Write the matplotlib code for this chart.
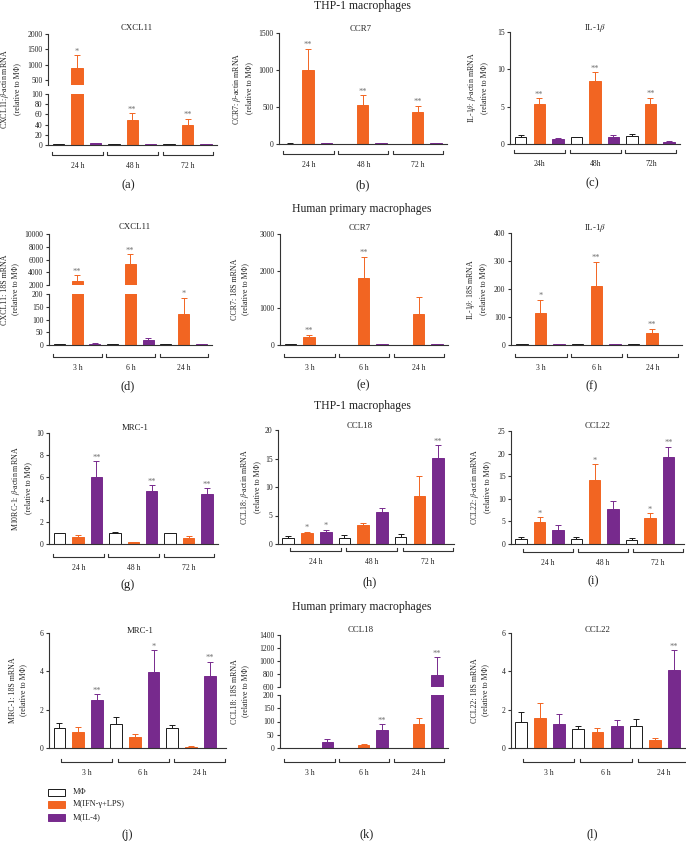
import matplotlib
matplotlib.use("Agg")
import matplotlib.pyplot as plt
import numpy as np
from matplotlib.transforms import blended_transform_factory
from matplotlib.patches import Rectangle

plt.rcParams['font.family'] = ['Liberation Serif', 'DejaVu Serif']
plt.rcParams['mathtext.fontset'] = 'stix'

# ---------------- data ----------------
SERIES = ["MΦ", "M(IFN-γ+LPS)", "M(IL-4)"]
GROUPS_THP = ["24 h", "48 h", "72 h"]
GROUPS_THP_C = ["24h", "48h", "72h"]
GROUPS_HUM = ["3 h", "6 h", "24 h"]

# (a) CXCL11 THP-1
a_mphi = [1, 1, 1];        a_mphi_se = [0.5, 0.3, 0.5]
a_ifn = [900, 50, 40];     a_ifn_se = [400, 12, 11]
a_il4 = [3, 2, 2];         a_il4_se = [1, 0.5, 0.5]
a_stars = {1: ["*", "**", "**"]}

# (b) CCR7 THP-1
b_mphi = [5, 0, 0];        b_mphi_se = [2, 0, 0]
b_ifn = [1000, 530, 430];  b_ifn_se = [290, 130, 90]
b_il4 = [10, 10, 12];      b_il4_se = [3, 3, 3]
b_stars = {1: ["**", "**", "**"]}

# (c) IL-1b THP-1
c_mphi = [1.0, 0.95, 1.05]; c_mphi_se = [0.15, 0.05, 0.25]
c_ifn = [5.3, 8.4, 5.3];    c_ifn_se = [0.8, 1.2, 0.9]
c_il4 = [0.7, 0.95, 0.3];   c_il4_se = [0.1, 0.2, 0.05]
c_stars = {1: ["**", "**", "**"]}

# (d) CXCL11 human
d_mphi = [2, 3, 4];          d_mphi_se = [1, 1, 1]
d_ifn = [2700, 5300, 122];   d_ifn_se = [800, 1550, 63]
d_il4 = [5, 20, 3];          d_il4_se = [2, 8, 1]
d_stars = {1: ["**", "**", "*"]}

# (e) CCR7 human
e_mphi = [20, 0, 0];         e_mphi_se = [5, 0, 0]
e_ifn = [215, 1820, 840];    e_ifn_se = [65, 570, 470]
e_il4 = [0, 20, 15];         e_il4_se = [0, 5, 5]
e_stars = {1: ["**", "**", ""]}

# (f) IL-1b human
f_mphi = [2, 3, 3];          f_mphi_se = [1, 1, 1]
f_ifn = [113, 211, 43];      f_ifn_se = [48, 87, 15]
f_il4 = [2, 3, 0.5];         f_il4_se = [1, 1, 0.2]
f_stars = {1: ["*", "**", "**"]}

# (g) MRC-1 THP-1
g_mphi = [0.95, 1.0, 0.98];  g_mphi_se = [0.05, 0.05, 0.05]
g_ifn = [0.6, 0.15, 0.5];    g_ifn_se = [0.2, 0.07, 0.2]
g_il4 = [6.05, 4.78, 4.48];  g_il4_se = [1.4, 0.52, 0.55]
g_stars = {2: ["**", "**", "**"]}

# (h) CCL18 THP-1
h_mphi = [1.05, 1.05, 1.22]; h_mphi_se = [0.3, 0.45, 0.48]
h_ifn = [1.87, 3.27, 8.4];   h_ifn_se = [0.29, 0.33, 3.55]
h_il4 = [2.04, 5.54, 15.16]; h_il4_se = [0.41, 0.86, 2.14]
h_stars = {1: ["*", "", ""], 2: ["*", "", "**"]}

# (i) CCL22 THP-1
i_mphi = [1.1, 1.1, 0.95];   i_mphi_se = [0.4, 0.4, 0.35]
i_ifn = [4.84, 14.1, 5.65];  i_ifn_se = [1.1, 3.5, 1.1]
i_il4 = [3.2, 7.85, 19.3];   i_il4_se = [0.9, 1.75, 2.2]
i_stars = {1: ["*", "*", "*"], 2: ["", "", "**"]}

# (j) MRC-1 human
j_mphi = [1.05, 1.26, 1.05]; j_mphi_se = [0.23, 0.38, 0.17]
j_ifn = [0.84, 0.56, 0.05];  j_ifn_se = [0.23, 0.19, 0.05]
j_il4 = [2.5, 3.97, 3.76];   j_il4_se = [0.31, 1.12, 0.73]
j_stars = {2: ["**", "*", "**"]}

# (k) CCL18 human
k_mphi = [1, 1, 1];          k_mphi_se = [0.5, 0.5, 0.5]
k_ifn = [1, 10, 89];         k_ifn_se = [0.5, 6.5, 26]
k_il4 = [21.7, 67.5, 785];   k_il4_se = [11, 21.5, 271]
k_stars = {2: ["", "**", "**"]}

# (l) CCL22 human
l_mphi = [1.36, 1.01, 1.17]; l_mphi_se = [0.53, 0.13, 0.35]
l_ifn = [1.59, 0.86, 0.42];  l_ifn_se = [0.74, 0.19, 0.12]
l_il4 = [1.24, 1.14, 4.06];  l_il4_se = [0.54, 0.33, 1.04]
l_stars = {2: ["", "", "**"]}

# ---------------- style ----------------
W, H = 686, 841
fig = plt.figure(figsize=(W / 100, H / 100), dpi=100)
FACE = ["white", "#F26522", "#772A8D"]
EDGE = ["#1a1a1a", "#F26522", "#772A8D"]
STAR_COLOR = "#707070"
TXT = "#222222"


def add_ax(x0, x1, yt, yb):
    return fig.add_axes([x0 / W, 1 - yb / H, (x1 - x0) / W, (yb - yt) / H])


def style(ax, bottom=True):
    for s in ['top', 'right']:
        ax.spines[s].set_visible(False)
    for s in ['left', 'bottom']:
        ax.spines[s].set_linewidth(0.8)
        ax.spines[s].set_color('#333333')
    if not bottom:
        ax.spines['bottom'].set_visible(False)
    ax.tick_params(axis='y', direction='out', length=2.5, width=0.8,
                   labelsize=5.5, pad=1.5, colors='#333333', labelcolor=TXT)
    ax.tick_params(axis='x', length=0, labelbottom=False)
    ax.set_facecolor('none')


def draw_bars(ax, means, ses):
    for s, (m, e) in enumerate(zip(means, ses)):
        x = np.arange(len(m)) * 3 + s
        ax.bar(x, m, width=0.62, color=FACE[s], edgecolor=EDGE[s],
               linewidth=0.7, zorder=2)
        ax.errorbar(x, m, yerr=[np.zeros(len(m)), e], fmt='none',
                    ecolor=EDGE[s], elinewidth=0.7, capsize=2,
                    capthick=0.7, zorder=1)


def draw_stars(axes_pick, means, ses, stars):
    for s, lst in stars.items():
        for g, st in enumerate(lst):
            if not st:
                continue
            top = means[s][g] + ses[s][g]
            ax = axes_pick(top)
            ax.annotate(st, (g * 3 + s, top), xytext=(0, 1.2),
                        textcoords='offset points', ha='center',
                        va='baseline', fontsize=6, color=STAR_COLOR)


def draw_brackets(ax, groups, hpx, off_px, span):
    tr = blended_transform_factory(ax.transData, ax.transAxes)
    y = -off_px / hpx
    yt = -(off_px - 3.5) / hpx
    yl = -(off_px + 11) / hpx
    for g, lab in enumerate(groups):
        x0, x1 = g * 3 + span[0], g * 3 + span[1]
        ax.plot([x0, x0, x1, x1], [yt, y, y, yt], transform=tr,
                color='#333333', lw=0.8, clip_on=False)
        ax.text((x0 + x1) / 2, yl, lab, transform=tr, ha='center',
                va='center', fontsize=5.5, color=TXT)


STD_SPAN = (-0.35, 2.4)
SHIFT_SPAN = (0.1, 2.8)
STD_XLIM = (-0.58, 8.6)
SHIFT_XLIM = (-0.55, 8.85)


def panel(x0, x1, yt, yb, means, ses, stars, groups, title, title_xy,
          ylabel, ylab_x, ylim, yticks, letter, letter_xy, br_off,
          span=STD_SPAN, xlim=STD_XLIM, broken=None):
    if broken is None:
        ax = add_ax(x0, x1, yt, yb)
        style(ax)
        draw_bars(ax, means, ses)
        ax.set_xlim(*xlim)
        ax.set_ylim(*ylim)
        ax.set_yticks(yticks)
        draw_stars(lambda t: ax, means, ses, stars)
        low = ax
        hpx = yb - yt
        ycen = (yt + yb) / 2
    else:
        (ut, ub, lt, lb, uylim, uticks) = broken
        axu = add_ax(x0, x1, ut, ub)
        axl = add_ax(x0, x1, lt, lb)
        style(axu, bottom=False)
        style(axl)
        for a in (axu, axl):
            draw_bars(a, means, ses)
            a.set_xlim(*xlim)
        axu.set_ylim(*uylim)
        axu.set_yticks(uticks)
        axl.set_ylim(*ylim)
        axl.set_yticks(yticks)
        draw_stars(lambda t: axu if t > ylim[1] else axl, means, ses, stars)
        low = axl
        hpx = lb - lt
        ycen = (ut + lb) / 2
    draw_brackets(low, groups, hpx, br_off, span)
    fig.text(title_xy[0] / W, 1 - title_xy[1] / H, title, ha='center',
             va='center', fontsize=6.3, color=TXT)
    fig.text(ylab_x / W, 1 - ycen / H, ylabel, rotation=90, ha='center',
             va='center', fontsize=5.7, linespacing=1.4, color=TXT,
             multialignment='center')
    fig.text(letter_xy[0] / W, 1 - letter_xy[1] / H, letter, ha='center',
             va='center', fontsize=9, color=TXT)


B = r'$\beta$'
REL = "(relative to MΦ)"

panel(48, 217, None, None,
      [a_mphi, a_ifn, a_il4], [a_mphi_se, a_ifn_se, a_il4_se], a_stars,
      GROUPS_THP, "CXCL11", (137, 28),
      "CXCL11:" + B + "-actin mRNA\n" + REL, 10,
      (0, 100), [0, 20, 40, 60, 80, 100], "(a)", (128, 185), 10,
      broken=(34, 85, 94, 145, (330, 2000), [500, 1000, 1500, 2000]))

panel(279, 447, 33, 144,
      [b_mphi, b_ifn, b_il4], [b_mphi_se, b_ifn_se, b_il4_se], b_stars,
      GROUPS_THP, "CCR7", (361, 29),
      "CCR7: " + B + "-actin mRNA\n" + REL, 242,
      (0, 1500), [0, 500, 1000, 1500], "(b)", (363, 185), 10)

panel(510, 680, 32, 144,
      [c_mphi, c_ifn, c_il4], [c_mphi_se, c_ifn_se, c_il4_se], c_stars,
      GROUPS_THP_C, "IL-1" + B, (595, 28),
      "IL-1" + B + ": " + B + "-actin mRNA\n" + REL, 477,
      (0, 15), [0, 5, 10, 15], "(c)", (592, 183), 9)

panel(49, 212, None, None,
      [d_mphi, d_ifn, d_il4], [d_mphi_se, d_ifn_se, d_il4_se], d_stars,
      GROUPS_HUM, "CXCL11", (135, 227),
      "CXCL11: 18S mRNA\n" + REL, 10,
      (0, 200), [0, 50, 100, 150, 200], "(d)", (128, 386), 12,
      broken=(234, 285, 294, 345, (2000, 10000),
              [2000, 4000, 6000, 8000, 10000]))

panel(280, 448, 234, 345,
      [e_mphi, e_ifn, e_il4], [e_mphi_se, e_ifn_se, e_il4_se], e_stars,
      GROUPS_HUM, "CCR7", (360, 228),
      "CCR7: 18S mRNA\n" + REL, 240,
      (0, 3000), [0, 1000, 2000, 3000], "(e)", (363, 385), 12)

panel(511, 682, 233, 345,
      [f_mphi, f_ifn, f_il4], [f_mphi_se, f_ifn_se, f_il4_se], f_stars,
      GROUPS_HUM, "IL-1" + B, (595, 228),
      "IL-1" + B + ": 18S mRNA\n" + REL, 476,
      (0, 400), [0, 100, 200, 300, 400], "(f)", (592, 386), 12)

panel(49, 218, 433, 544,
      [g_mphi, g_ifn, g_il4], [g_mphi_se, g_ifn_se, g_il4_se], g_stars,
      GROUPS_THP, "MRC-1", (135, 428),
      "M10RC-1: " + B + "-actin mRNA\n" + REL, 21,
      (0, 10), [0, 2, 4, 6, 8, 10], "(g)", (128, 585), 13)

panel(278, 454, 430, 544,
      [h_mphi, h_ifn, h_il4], [h_mphi_se, h_ifn_se, h_il4_se], h_stars,
      GROUPS_THP, "CCL18", (360, 426),
      "CCL18: " + B + "-actin mRNA\n" + REL, 250,
      (0, 20), [0, 5, 10, 15, 20], "(h)", (370, 582), 7,
      span=SHIFT_SPAN, xlim=SHIFT_XLIM)

panel(511, 684, 431, 544,
      [i_mphi, i_ifn, i_il4], [i_mphi_se, i_ifn_se, i_il4_se], i_stars,
      GROUPS_THP, "CCL22", (598, 426),
      "CCL22: " + B + "-actin mRNA\n" + REL, 480,
      (0, 25), [0, 5, 10, 15, 20, 25], "(i)", (593, 581), 8,
      span=SHIFT_SPAN, xlim=SHIFT_XLIM)

panel(49, 226, 633, 748,
      [j_mphi, j_ifn, j_il4], [j_mphi_se, j_ifn_se, j_il4_se], j_stars,
      GROUPS_HUM, "MRC-1", (140, 631),
      "MRC-1: 18S mRNA\n" + REL, 18,
      (0, 6), [0, 2, 4, 6], "(j)", (127, 835), 14,
      span=SHIFT_SPAN, xlim=SHIFT_XLIM)

panel(280, 448, None, None,
      [k_mphi, k_ifn, k_il4], [k_mphi_se, k_ifn_se, k_il4_se], k_stars,
      GROUPS_HUM, "CCL18", (361, 630),
      "CCL18: 18S mRNA\n" + REL, 240,
      (0, 200), [0, 50, 100, 150, 200], "(k)", (367, 834), 14,
      broken=(635, 687, 695, 748, (600, 1400),
              [600, 800, 1000, 1200, 1400]))

panel(511, 686, 633, 748,
      [l_mphi, l_ifn, l_il4], [l_mphi_se, l_ifn_se, l_il4_se], l_stars,
      GROUPS_HUM, "CCL22", (598, 630),
      "CCL22: 18S mRNA\n" + REL, 480,
      (0, 6), [0, 2, 4, 6], "(l)", (592, 834), 14,
      span=SHIFT_SPAN, xlim=(-0.52, 8.63))

# section titles
for txt, y in [("THP-1 macrophages", 6), ("Human primary macrophages", 209),
               ("THP-1 macrophages", 406), ("Human primary macrophages", 607)]:
    fig.text(362 / W, 1 - y / H, txt, ha='center', va='center',
             fontsize=8.5, color=TXT)

# legend
for s, (lab, y) in enumerate(zip(SERIES, [792, 804, 817])):
    fig.add_artist(Rectangle((48 / W, 1 - (y + 3.5) / H), 17 / W, 7 / H,
                             transform=fig.transFigure, facecolor=FACE[s],
                             edgecolor=EDGE[s], linewidth=0.7))
    fig.text(73 / W, 1 - y / H, lab, ha='left', va='center', fontsize=6,
             color=TXT)

fig.savefig("out.png", dpi=100)
